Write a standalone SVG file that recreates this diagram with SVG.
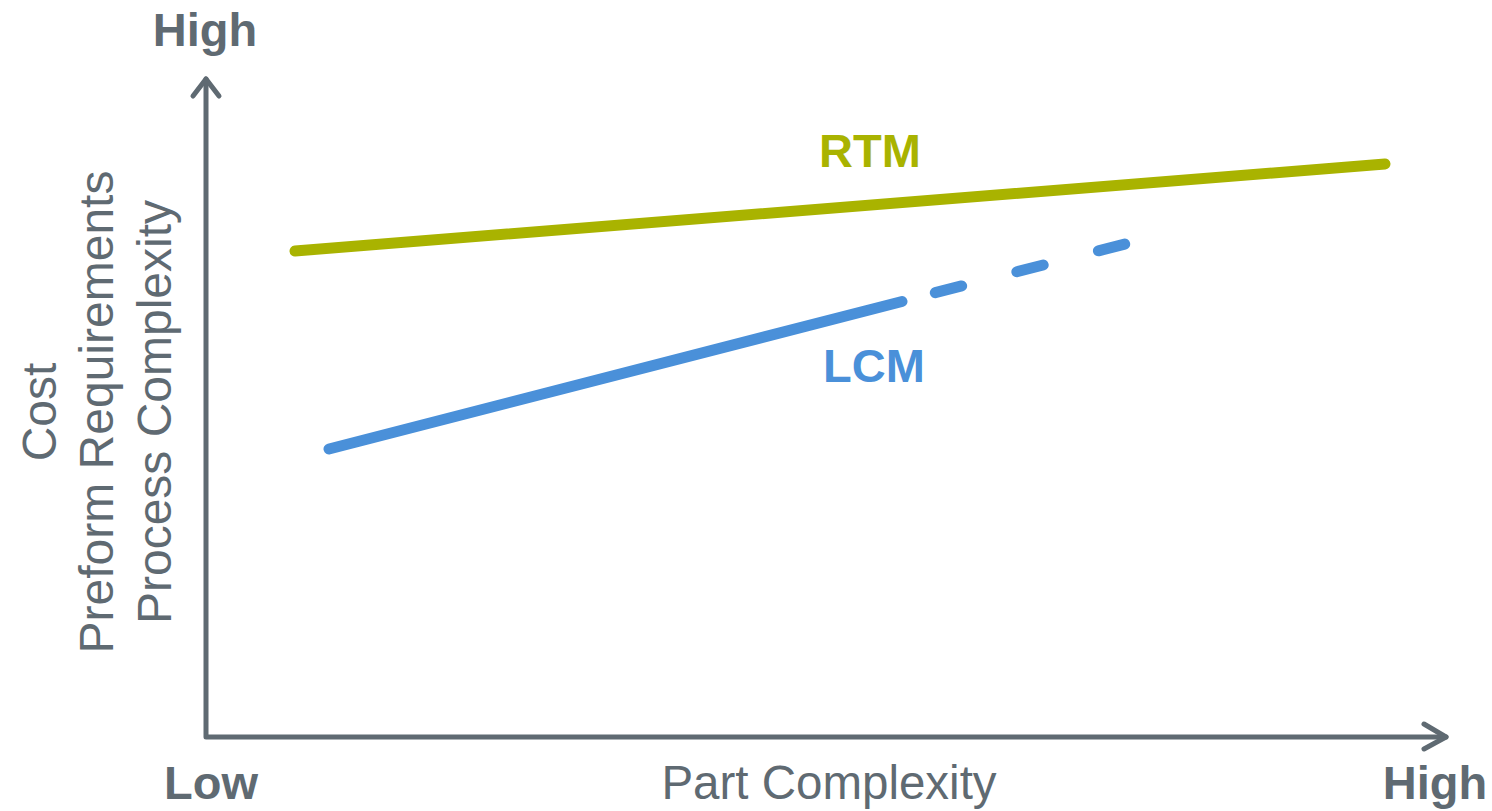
<svg xmlns="http://www.w3.org/2000/svg" width="1492" height="811" viewBox="0 0 1492 811">
  <style>
    .axis { fill: none; stroke: #5f6a72; stroke-width: 5; stroke-linecap: round; stroke-linejoin: round; }
    .lbl { font-family: "Liberation Sans", Arial, sans-serif; font-size: 47px; fill: #5f6a72; }
    .vert { font-size: 48px; }
    .bold { font-weight: bold; }
    .rtm { fill: none; stroke: #a9b300; stroke-width: 11; stroke-linecap: round; }
    .lcm { fill: none; stroke: #4a90d9; stroke-width: 11; stroke-linecap: round; }
  </style>
  <rect width="1492" height="811" fill="#ffffff"/>

  <!-- axes -->
  <g id="axes">
    <path class="axis" d="M206,79 L206,737 L1446,737"/>
    <path class="axis" d="M193,96 L206,79 L219,96"/>
    <path class="axis" d="M1424,724 L1446,737 L1424,749"/>
  </g>

  <!-- axis labels -->
  <g id="axis-labels">
    <text class="lbl bold" x="205" y="46" text-anchor="middle">High</text>
    <text class="lbl bold" x="211" y="799" text-anchor="middle">Low</text>
    <text class="lbl bold" x="1435" y="799" text-anchor="middle">High</text>
    <text class="lbl" x="829" y="799" text-anchor="middle" style="font-size:47.5px">Part Complexity</text>
    <g transform="rotate(-90)">
      <text class="lbl vert" x="-412" y="56" text-anchor="middle">Cost</text>
      <text class="lbl vert" x="-412" y="113" text-anchor="middle">Preform Requirements</text>
      <text class="lbl vert" x="-412" y="171" text-anchor="middle">Process Complexity</text>
    </g>
  </g>

  <!-- series -->
  <g id="connectors">
    <g id="rtm">
      <path class="rtm" d="M295,251 L1385,164"/>
    </g>
    <g id="lcm">
      <path class="lcm" d="M329,449 L902,301.5"/>
      <path class="lcm" d="M935.3,292.7 L1124.7,244.1" stroke-dasharray="27.2 57"/>
    </g>
  </g>

  <g id="series-labels">
    <text class="lbl bold" x="870" y="167" text-anchor="middle" style="fill:#a9b300">RTM</text>
    <text class="lbl bold" x="874" y="382" text-anchor="middle" style="fill:#4a90d9">LCM</text>
  </g>
</svg>
